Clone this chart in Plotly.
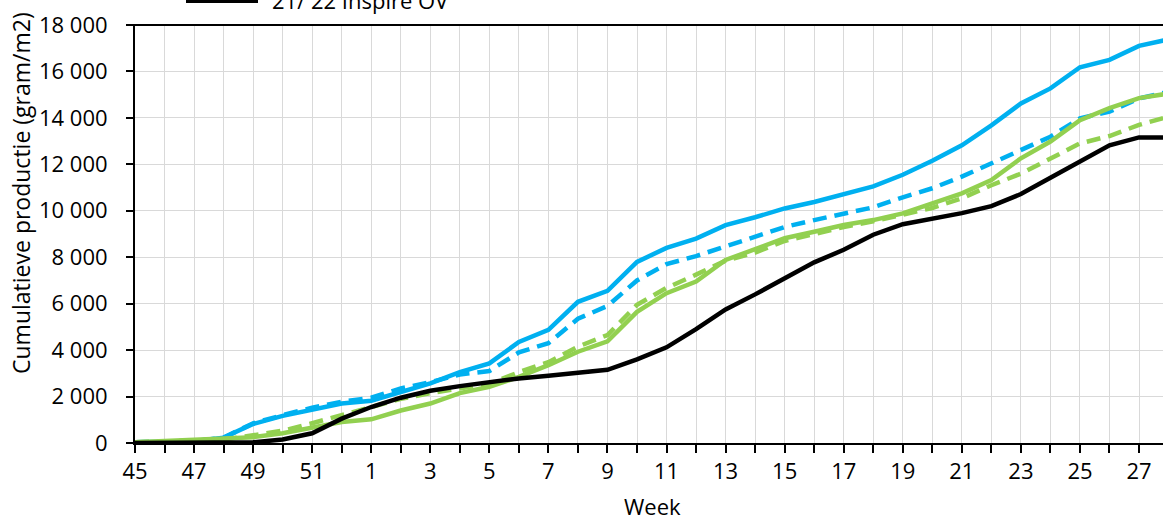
import plotly.graph_objects as go

weeks = ["45", "46", "47", "48", "49", "50", "51", "52"] + [str(w) for w in range(1, 29)]

blue_solid = [30, 50, 80, 230, 820, 1170, 1420, 1700, 1820, 2200, 2570, 3050, 3430, 4350,
              4870, 6080, 6550, 7800, 8400, 8800, 9380, 9720, 10100, 10380, 10740, 11050,
              11550, 12150, 12820, 13680, 14620, 15270, 16180, 16500, 17100, 17380]
blue_dashed = [30, 50, 80, 230, 850, 1200, 1520, 1780, 1950, 2350, 2620, 2950, 3100, 3900,
               4300, 5350, 5900, 7000, 7700, 8050, 8450, 8900, 9300, 9600, 9880, 10150,
               10580, 10970, 11470, 12040, 12620, 13190, 13980, 14270, 14840, 15120]
green_solid = [30, 80, 150, 200, 250, 420, 650, 900, 1020, 1400, 1700, 2150, 2420, 2850,
               3350, 3930, 4380, 5650, 6450, 6950, 7880, 8330, 8820, 9100, 9390, 9600,
               9890, 10320, 10750, 11320, 12260, 12980, 13900, 14420, 14850, 15050]
green_dashed = [30, 60, 100, 150, 330, 530, 850, 1200, 1550, 1900, 2150, 2350, 2550, 3050,
                3480, 4150, 4650, 5950, 6680, 7250, 7850, 8200, 8700, 9000, 9300, 9550,
                9820, 10120, 10540, 11100, 11600, 12250, 12900, 13220, 13700, 14050]
black_inspire = [0, 0, 0, 0, 30, 150, 420, 1050, 1550, 1950, 2250, 2450, 2620, 2780,
                 2900, 3030, 3150, 3600, 4120, 4900, 5750, 6400, 7100, 7780, 8320, 8970,
                 9420, 9660, 9900, 10200, 10720, 11420, 12110, 12820, 13160, 13160]

y_ticks = list(range(0, 18001, 2000))
y_tick_text = [f"{v:,}".replace(",", " ") for v in y_ticks]

idx = list(range(len(weeks)))
x_tick_text = [w if i % 2 == 0 else "" for i, w in enumerate(weeks)]

BLUE = "#00B0F0"
GREEN = "#92D050"
FONT = "Open Sans"
FS = 22

fig = go.Figure()
series = [
    ("Blauw", blue_solid, BLUE, "solid"),
    ("Blauw gem.", blue_dashed, BLUE, "14px,8px"),
    ("Groen", green_solid, GREEN, "solid"),
    ("Groen gem.", green_dashed, GREEN, "14px,8px"),
    ("21/ 22 Inspire OV", black_inspire, "#000000", "solid"),
]
for name, vals, col, dash in series:
    fig.add_trace(go.Scatter(x=idx, y=vals, mode="lines", name=name,
                             line=dict(color=col, width=4.5, dash=dash),
                             showlegend=False, hoverinfo="skip"))

L, T, B = 135, 25, 79
W, H = 1163, 522
pw = W - L
ph = H - T - B

fig.update_layout(
    width=W, height=H,
    margin=dict(l=L, r=0, t=T, b=B, pad=0),
    paper_bgcolor="white", plot_bgcolor="white",
    font=dict(family=FONT, size=FS, color="#000000"),
    showlegend=False,
)
fig.update_xaxes(
    range=[0, (W - L) / 29.53], tickmode="array", tickvals=idx, ticktext=x_tick_text,
    showgrid=True, gridcolor="#D9D9D9", gridwidth=1.3,
    showline=True, linecolor="#000000", linewidth=2,
    ticks="outside", ticklen=8, tickwidth=2, tickcolor="#000000",
    ticklabelstandoff=0, zeroline=False,
    tickfont=dict(family=FONT, size=FS, color="#000000"),
)
fig.update_yaxes(
    range=[0, 18000], tickmode="array", tickvals=y_ticks, ticktext=y_tick_text,
    showgrid=True, gridcolor="#D9D9D9", gridwidth=1.3,
    showline=True, linecolor="#000000", linewidth=2,
    ticks="outside", ticklen=7, tickwidth=2, tickcolor="#000000",
    ticklabelstandoff=14, zeroline=False,
    tickfont=dict(family=FONT, size=FS, color="#000000"),
)

def px(xp):
    return (xp - L) / pw

def py(yp):
    return (H - B - yp) / ph

# top border line
fig.add_shape(type="line", xref="paper", yref="paper", x0=px(127), x1=1.0, y0=1, y1=1,
              line=dict(color="#000000", width=2))

# partially visible legend entry at top
fig.add_shape(type="line", xref="paper", yref="paper", x0=px(186), x1=px(258),
              y0=py(0.5), y1=py(0.5), line=dict(color="#000000", width=5))
fig.add_annotation(text="21/ 22 Inspire OV", xref="paper", yref="paper",
                   x=px(270), y=py(0.0), xanchor="left", yanchor="middle",
                   showarrow=False, font=dict(family=FONT, size=FS, color="#000000"))

# axis titles
fig.add_annotation(text="Cumulatieve productie (gram/m2)", xref="paper", yref="paper",
                   x=px(21), y=py(193), xanchor="center", yanchor="middle", textangle=-90,
                   showarrow=False, font=dict(family=FONT, size=23, color="#000000"))
fig.add_annotation(text="Week", xref="paper", yref="paper",
                   x=px(652), y=py(506), xanchor="center", yanchor="middle",
                   showarrow=False, font=dict(family=FONT, size=FS, color="#000000"))

fig.write_html("out.html")
